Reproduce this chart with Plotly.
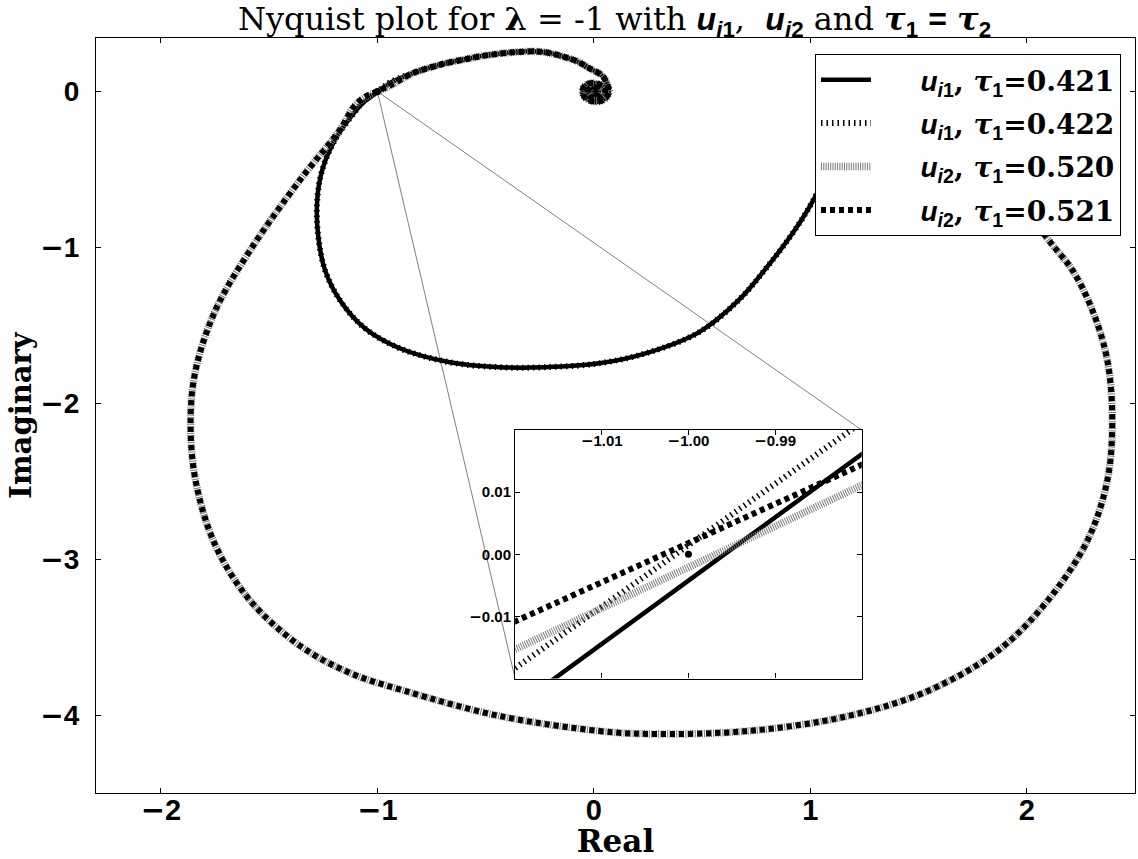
import plotly.graph_objects as go

# ---------------- data ----------------
# common high-frequency part: small spiral at the origin, then the arc to (-1, 0)
head_re = [0.0, 0.006, 0.0, -0.008, -0.006, 0.008, 0.022, 0.024, 0.012, -0.008, -0.024, -0.030,
           -0.020, 0.002, 0.028, 0.046, 0.052, 0.044, 0.022, -0.006, -0.032, -0.048, -0.052,
           -0.040, -0.014, 0.024, 0.054, 0.070, 0.062, 0.040, -0.022, -0.080, -0.145, -0.210,
           -0.267, -0.375, -0.450, -0.528, -0.600, -0.681, -0.760, -0.835]
head_im = [0.0, 0.006, 0.012, 0.004, -0.010, -0.016, -0.006, 0.012, 0.026, 0.028, 0.014, -0.008,
           -0.030, -0.042, -0.040, -0.022, 0.004, 0.030, 0.048, 0.054, 0.046, 0.024, -0.006,
           -0.040, -0.060, -0.064, -0.044, 0.0, 0.045, 0.100, 0.150, 0.195, 0.225, 0.248,
           0.257, 0.251, 0.240, 0.225, 0.205, 0.182, 0.152, 0.118]

# crossing of the real axis near the critical point (-1, 0), per series
cross_re = [-0.94, -0.97, -1.03, -1.06]
cross_im_421 = [0.0568, 0.0263, -0.0348, -0.0653]
cross_im_422 = [0.0607, 0.0311, -0.0282, -0.0578]
cross_im_520 = [0.0375, 0.0177, -0.0219, -0.0417]
cross_im_521 = [0.0396, 0.0207, -0.0171, -0.0360]

# low-frequency parts
inner_re = [-1.104, -1.196, -1.255, -1.278, -1.274, -1.242, -1.173, -1.058, -0.897, -0.666,
            -0.436, -0.229, 0.024, 0.255, 0.485, 0.669, 0.807, 0.922, 1.014, 1.100]
inner_im = [-0.131, -0.311, -0.504, -0.697, -0.921, -1.146, -1.339, -1.519, -1.647, -1.737,
            -1.769, -1.769, -1.744, -1.673, -1.545, -1.339, -1.114, -0.902, -0.697, -0.450]
outer_re = [-1.110, -1.173, -1.357, -1.587, -1.748, -1.840, -1.863, -1.840, -1.748, -1.587,
            -1.357, -1.127, -0.873, -0.436, 0.024, 0.255, 0.715, 1.175, 1.544, 1.866, 2.096,
            2.280, 2.372, 2.395, 2.372, 2.303, 2.211, 2.119, 1.958]
outer_im = [-0.100, -0.246, -0.567, -1.017, -1.403, -1.789, -2.110, -2.496, -2.913, -3.267,
            -3.556, -3.730, -3.845, -4.006, -4.102, -4.121, -4.102, -4.006, -3.845, -3.588,
            -3.267, -2.881, -2.496, -2.110, -1.724, -1.403, -1.146, -0.985, -0.697]

crit_re = [-1.0]
crit_im = [0.0]

x_ticks = [-2, -1, 0, 1, 2]
y_ticks = [0, -1, -2, -3, -4]
inset_x_ticks = [-1.01, -1.00, -0.99]
inset_y_ticks = [0.01, 0.00, -0.01]

x_range = [-2.3, 2.5]
y_range = [-4.5, 0.343]
inset_x_range = [-1.02, -0.98]
inset_y_range = [-0.02, 0.02]
inset_dom_x = [0.4034, 0.7370]
inset_dom_y = [0.1516, 0.4808]

# ---------------- figure ----------------
SANS = "Liberation Sans"
SERIF = "DejaVu Serif"
MINUS = '<span style="font-family:DejaVu Sans">\u2212</span>'


def fmt(v, nd):
    s = f"{abs(v):.{nd}f}"
    return (MINUS + s) if v < 0 else s


def label(idx, tau):
    return (f'&nbsp;&nbsp;&nbsp;&nbsp;&nbsp;<span style="font-family:{SANS}"><b><i>u</i></b><sub><b><i>i</i>{idx}</b></sub></span>'
            f'<b>, <i>τ</i></b><sub><span style="font-family:{SANS}"><b>1</b></span></sub><b>={tau}</b>')


series = [
    dict(name=label(1, "0.421"), cross=cross_im_421, tail=(inner_re, inner_im),
         line=dict(color="black", width=4.5)),
    dict(name=label(1, "0.422"), cross=cross_im_422, tail=(inner_re, inner_im),
         line=dict(color="black", width=6, dash="1.5px,4px")),
    dict(name=label(2, "0.520"), cross=cross_im_520, tail=(outer_re, outer_im),
         line=dict(color="#7a7a7a", width=7.5, dash="1px,1.3px")),
    dict(name=label(2, "0.521"), cross=cross_im_521, tail=(outer_re, outer_im),
         line=dict(color="black", width=6, dash="5px,4px")),
]

fig = go.Figure()
for i, s in enumerate(series):
    re = head_re + cross_re + s["tail"][0]
    im = head_im + s["cross"] + s["tail"][1]
    fig.add_trace(go.Scatter(x=re, y=im, mode="lines", name=s["name"], line=s["line"],
                             line_shape="spline", legendgroup=f"g{i}", xaxis="x", yaxis="y"))
for i, s in enumerate(series):
    re = head_re + cross_re + s["tail"][0]
    im = head_im + s["cross"] + s["tail"][1]
    fig.add_trace(go.Scatter(x=re, y=im, mode="lines", showlegend=False, line=s["line"],
                             line_shape="spline", legendgroup=f"g{i}", xaxis="x2", yaxis="y2"))

for ax in ("x", "x2"):
    fig.add_trace(go.Scatter(x=crit_re, y=crit_im, mode="markers", showlegend=False,
                             marker=dict(color="black", size=7),
                             xaxis=ax, yaxis="y" if ax == "x" else "y2"))

# connector lines from the zoomed point to the inset corners (paper coords)
px = (crit_re[0] - x_range[0]) / (x_range[1] - x_range[0])
py = (crit_im[0] - y_range[0]) / (y_range[1] - y_range[0])
for cx, cy in ((inset_dom_x[1], inset_dom_y[1]), (inset_dom_x[0], inset_dom_y[0])):
    fig.add_shape(type="line", xref="paper", yref="paper", x0=px, y0=py, x1=cx, y1=cy,
                  line=dict(color="#808080", width=1), layer="below")

axis_common = dict(showline=True, linecolor="black", linewidth=1.2, mirror="ticks",
                   ticks="inside", ticklen=5, tickcolor="black", showgrid=False,
                   zeroline=False, automargin=False)

title_html = (f'Nyquist plot for <b>λ</b> = -1 with '
              f'<span style="font-family:{SANS}"><b><i>u</i></b><sub><b><i>i</i>1</b></sub></span>,  '
              f'<span style="font-family:{SANS}"><b><i>u</i></b><sub><b><i>i</i>2</b></sub></span>'
              f' and <b><i>τ</i></b><sub><span style="font-family:{SANS}"><b>1</b></span></sub>'
              f' <span style="font-family:{SANS}"><b>=</b></span> '
              f'<b><i>τ</i></b><sub><span style="font-family:{SANS}"><b>2</b></span></sub>')

fig.update_layout(
    width=1138, height=859,
    margin=dict(l=96, r=3, t=38, b=66),
    paper_bgcolor="white", plot_bgcolor="white",
    title=dict(text=title_html, x=0.54, xanchor="center", y=0.978, yanchor="middle",
               font=dict(family=SERIF, size=32, color="black")),
    xaxis=dict(range=x_range, tickvals=x_ticks, ticktext=[fmt(v, 0) for v in x_ticks],
               tickfont=dict(family=SANS, size=29, color="black", weight="bold"),
               ticklabelstandoff=-9,
               title=dict(text="<b>Real</b>", font=dict(family=SERIF, size=31, color="black"),
                          standoff=0),
               **axis_common),
    yaxis=dict(range=y_range, tickvals=y_ticks, ticktext=[fmt(v, 0) for v in y_ticks],
               tickfont=dict(family=SANS, size=28, color="black", weight="bold"),
               ticklabelstandoff=10,
               title=dict(text="<b>Imaginary</b>", font=dict(family=SERIF, size=29, color="black"),
                          standoff=0),
               **axis_common),
    xaxis2=dict(domain=inset_dom_x, anchor="y2", side="top", range=inset_x_range,
                tickvals=inset_x_ticks, ticktext=[fmt(v, 2) for v in inset_x_ticks],
                tickfont=dict(family=SANS, size=15, color="black", weight="bold"),
                ticklabelposition="inside",
                **axis_common),
    yaxis2=dict(domain=inset_dom_y, anchor="x2", range=inset_y_range,
                tickvals=inset_y_ticks, ticktext=[fmt(v, 2) for v in inset_y_ticks],
                tickfont=dict(family=SANS, size=15, color="black", weight="bold"),
                **axis_common),
    legend=dict(x=0.9865, y=0.9788, xanchor="right", yanchor="top", bgcolor="white",
                bordercolor="black", borderwidth=1, tracegroupgap=4, itemwidth=50,
                font=dict(family=SERIF, size=28, color="black")),
    showlegend=True,
)

fig.write_html("out.html", post_script="document.body.style.margin='0px';",
               config={"displayModeBar": False})
